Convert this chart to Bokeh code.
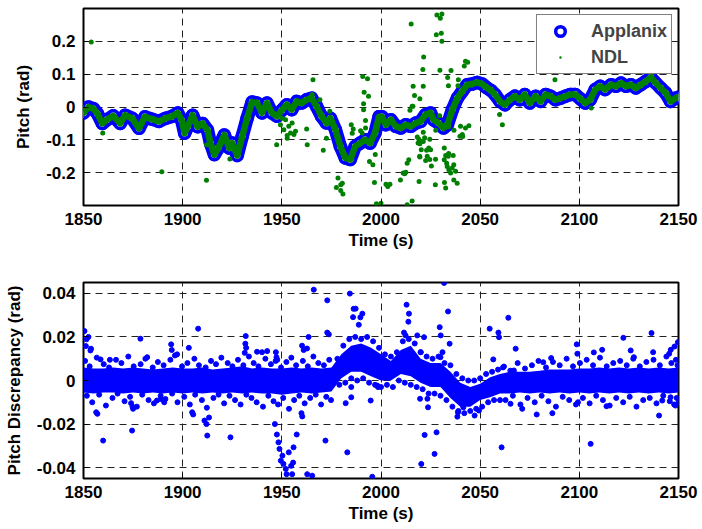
from bokeh.plotting import figure
from bokeh.layouts import column
from bokeh.models import FixedTicker, Legend, LegendItem, CustomJSTickFormatter
from bokeh.embed import file_html
from bokeh.resources import INLINE

# ---------------- data ----------------
x_ticks = [1850, 1900, 1950, 2000, 2050, 2100, 2150]
pitch_ticks = [-0.2, -0.1, 0, 0.1, 0.2]
disc_ticks = [-0.04, -0.02, 0, 0.02, 0.04]

applanix_t = [1850, 1852.5, 1855, 1857, 1859.5, 1862, 1865, 1868.5, 1871, 1874.5, 1878, 1881,
              1884.5, 1888, 1891.5, 1894.5, 1897.5, 1899.5, 1901, 1902.5, 1905, 1907.5, 1910,
              1912.5, 1914, 1916, 1918, 1921, 1923.5, 1925, 1927.5, 1930, 1932.5, 1935, 1937.5,
              1940, 1942.5, 1945, 1947.5, 1950, 1952.5, 1955, 1957.5, 1960, 1962.5, 1965, 1967.5,
              1970, 1972.5, 1974.5, 1977, 1979.5, 1982, 1984.5, 1987, 1989.5, 1992, 1994.5, 1997,
              1999, 2000.5, 2002.5, 2005, 2007.5, 2010, 2012.5, 2015, 2017.5, 2020, 2022.5, 2025,
              2026.5, 2029, 2031.5, 2033.5, 2036, 2038.5, 2041, 2043.5, 2046, 2048.5, 2051, 2053,
              2055.5, 2057.5, 2060, 2062.5, 2065, 2067.5, 2070, 2072.5, 2075, 2078, 2080.5, 2083,
              2085.5, 2088, 2090.5, 2093, 2095.5, 2098, 2100.5, 2103, 2105.5, 2108, 2110.5, 2113,
              2116, 2118.5, 2121, 2123.5, 2126, 2128.5, 2131, 2133.5, 2136, 2138.5, 2141, 2143.5,
              2146, 2148.5, 2150]
applanix_v = [-0.018, 0.0, -0.005, -0.02, -0.05, -0.038, -0.027, -0.05, -0.025, -0.034, -0.065, -0.03,
              -0.037, -0.044, -0.034, -0.029, -0.018, -0.04, -0.08, -0.06, -0.025, -0.06, -0.05,
              -0.07, -0.11, -0.145, -0.125, -0.085, -0.125, -0.11, -0.148, -0.09, -0.034, 0.015, 0.012,
              -0.018, 0.012, -0.018, -0.028, -0.01, 0.007, -0.008, 0.017, 0.012, 0.022, 0.027, 0.002,
              -0.028, -0.049, -0.034, -0.069, -0.12, -0.155, -0.16, -0.12, -0.11, -0.10, -0.11, -0.079,
              -0.03, -0.03, -0.054, -0.039, -0.059, -0.064, -0.054, -0.059, -0.049, -0.044, -0.023, -0.018,
              -0.039, -0.049, -0.064, -0.054, -0.008, 0.027, 0.048, 0.068, 0.07, 0.075, 0.07, 0.06,
              0.05, 0.038, 0.017, 0.007, 0.022, 0.033, 0.022, 0.038, 0.012, 0.033, 0.017, 0.038,
              0.033, 0.022, 0.027, 0.033, 0.038, 0.038, 0.025, 0.012, 0.022, 0.053, 0.063, 0.053,
              0.068, 0.063, 0.073, 0.063, 0.068, 0.058, 0.068, 0.078, 0.09, 0.073, 0.058, 0.043,
              0.017, 0.027, 0.03]

ndl_t = [1853.9, 1859.7, 1889.5, 1912, 1912, 1923.8, 1947.4, 1952.7, 1954.4, 1956.1, 1956.9, 1953.5,
         1951, 1955.2, 1951.9, 1952.7, 1949.3, 1950.2, 1965.7, 1965.3, 1962.8, 1962.5, 1970.9, 1972.5,
         1974.2, 1969.2, 1978.3, 1977.5, 1979.7, 1980.5, 1979.7, 1980.8, 1985, 1986, 1985.5, 1990.8,
         1993.2, 1991.5, 1993.7, 1991.2, 1991.2, 1992.2, 1992.2, 1989.7, 1990.5, 1994.2, 1995.9, 1997.1,
         1996.7, 1997.7, 2000, 2002.5, 2003.4, 2004.5, 2011.2, 2011.9, 2012.5, 2009.8, 2013.2, 2014,
         2013.2, 2015.7, 2015.2, 2016.2, 2016.9, 2015.7, 2019.5, 2019.2, 2018.7, 2020.4, 2021.5, 2021.1,
         2023, 2023.3, 2024.6, 2025.4, 2027.4, 2028.2, 2030.7, 2029.9, 2027.9, 2030.4, 2030.7, 2029.7,
         2033.6, 2034, 2033.6, 2034, 2032.6, 2032, 2032.6, 2033.1, 2033.4, 2034.2, 2035.1, 2035.9,
         2036.7, 2037.6, 2038.4, 2036.7, 2039.8, 2040.1, 2042.6, 2044.3, 2042.6, 2043.7, 2042, 2035.3,
         2039, 2038.8, 2021.3, 2019.6, 2016.1, 2014.6, 2029.6, 2036.8, 2027.6, 2021.3, 2041, 2041.2,
         2059.8, 2061.2, 2087.7, 2136.7, 2106, 2018.3, 2019.1, 2022, 2024.6, 2021.3, 2019.6, 2024.1,
         2025, 2020.3, 2031.9, 2034.1, 2033.9, 2036.4, 2019.6, 2022.5, 2027.5, 2031.9]
ndl_v = [0.198, -0.079, -0.197, -0.223, -0.115, -0.158, -0.115, -0.087, -0.079, -0.084, -0.074, -0.059,
         -0.069, -0.049, -0.039, -0.095, -0.054, -0.034, 0.083, 0.038, -0.115, -0.067, -0.132, -0.095,
         -0.013, 0.022, -0.216, -0.245, -0.237, -0.232, -0.254, -0.265, -0.054, -0.067, -0.08, 0.093,
         0.086, 0.045, 0.033, 0.010, -0.008, -0.041, -0.064, -0.072, -0.079, -0.166, -0.176, -0.145,
         -0.23, -0.295, -0.293, -0.235, -0.242, -0.235, -0.201, -0.203, -0.199, -0.222, -0.171, -0.161,
         -0.298, -0.286, 0.253, 0.063, 0.035, 0.002, -0.15, -0.227, -0.11, -0.105, 0.152, 0.114,
         -0.132, -0.15, -0.16, -0.18, -0.237, 0.28, 0.283, 0.27, 0.22, 0.225, 0.2, 0.112,
         0.09, 0.065, -0.05, -0.06, -0.247, -0.23, -0.148, -0.171, -0.181, -0.191, -0.201, -0.186,
         -0.176, -0.196, -0.232, -0.222, -0.089, -0.059, -0.064, -0.057, 0.139, 0.136, 0.125, 0.111,
         0.083, 0.065, 0.063, 0.025, 0.002, -0.01, -0.027, -0.071, -0.071, -0.077, -0.084, -0.09,
         -0.023, -0.054, 0.083, 0.105, -0.003, -0.091, -0.098, -0.094, -0.098, -0.105, -0.112, -0.125,
         -0.13, -0.13, -0.125, -0.142, -0.15, -0.148, -0.152, -0.163, -0.159, -0.161]

# dense core of the discrepancy cloud (upper / lower edge, rad)
core_t = [1850, 1855, 1860, 1865, 1870, 1875, 1880, 1885, 1890, 1895, 1900, 1905, 1910, 1915, 1920,
          1925, 1930, 1935, 1940, 1945, 1950, 1955, 1960, 1965, 1970, 1975, 1980, 1985, 1990, 1995,
          2000, 2005, 2010, 2015, 2020, 2025, 2030, 2035, 2040, 2045, 2050, 2055, 2060, 2065, 2070,
          2075, 2080, 2085, 2090, 2095, 2100, 2105, 2110, 2115, 2120, 2125, 2130, 2135, 2140, 2145, 2150]
core_hi = [0.006, 0.0055, 0.0055, 0.006, 0.0055, 0.006, 0.0055, 0.005, 0.0055, 0.006, 0.0055, 0.0055,
           0.006, 0.005, 0.0055, 0.006, 0.0065, 0.0055, 0.006, 0.0055, 0.0055, 0.006, 0.0055, 0.006,
           0.0055, 0.006, 0.012, 0.016, 0.017, 0.015, 0.012, 0.009, 0.014, 0.016, 0.010, 0.008, 0.008,
           0.004, -0.001, -0.003, -0.0015, 0.0015, 0.003, 0.004, 0.004, 0.004, 0.0045, 0.005, 0.005,
           0.005, 0.0055, 0.0055, 0.006, 0.0055, 0.006, 0.0055, 0.006, 0.0055, 0.006, 0.0055, 0.006]
core_lo = [-0.0055, -0.006, -0.0055, -0.0055, -0.006, -0.0055, -0.006, -0.0055, -0.006, -0.0055,
           -0.006, -0.0055, -0.006, -0.0055, -0.006, -0.0055, -0.006, -0.0055, -0.006, -0.006, -0.0065,
           -0.006, -0.0055, -0.006, -0.0055, -0.005, 0.001, 0.004, 0.004, 0.002, 0.0, 0.0, 0.003, 0.002,
           -0.001, -0.003, -0.003, -0.008, -0.012, -0.012, -0.009, -0.0077, -0.006, -0.006, -0.0055,
           -0.006, -0.0055, -0.006, -0.0055, -0.006, -0.0055, -0.006, -0.0055, -0.006, -0.0055, -0.006,
           -0.0055, -0.006, -0.0055, -0.006, -0.0055]

# individual discrepancy samples around and outside the core
disc_t = [1850.8, 1853.1, 1856.7, 1860.2, 1862.9, 1866.4, 1869.1, 1872.6, 1875.3, 1878.8, 1881.2,
          1884.9, 1887.5, 1890.4, 1893.8, 1896.1, 1899.7, 1902.4, 1905.9, 1908.2, 1911.6, 1914.3,
          1916.8, 1919.5, 1922.7, 1925.1, 1927.9, 1930.6, 1933.4, 1935.8, 1938.2, 1941.7, 1944.5,
          1946.9, 1949.6, 1952.3, 1954.8, 1957.2, 1960.6, 1963.1, 1965.9, 1968.4, 1971.2, 1973.9,
          1851.7, 1854.4, 1857.9, 1861.3, 1864.6, 1867.2, 1870.7, 1873.5, 1876.9, 1879.6, 1882.8,
          1885.5, 1888.9, 1891.3, 1894.7, 1897.4, 1900.8, 1903.6, 1906.3, 1909.7, 1912.2, 1915.5,
          1918.1, 1920.9, 1923.6, 1926.4, 1929.2, 1932.1, 1934.7, 1937.3, 1940.5, 1943.2, 1945.8,
          1948.1, 1950.7, 1953.6, 1956.2, 1958.8, 1961.5, 1964.3, 1967.1, 1969.8, 1972.4, 1974.8,
          2061.5, 2065.2, 2068.9, 2072.6, 2076.1, 2079.4, 2083.2, 2086.7, 2090.1, 2093.6, 2096.8,
          2100.3, 2103.7, 2106.9, 2110.4, 2113.8, 2117.1, 2120.6, 2123.9, 2127.2, 2130.5, 2133.8,
          2137.4, 2140.6, 2143.9, 2146.4, 2148.7, 2149.5,
          2062.8, 2066.5, 2070.3, 2073.9, 2077.5, 2081, 2084.4, 2088.2, 2091.6, 2094.9, 2098.3,
          2101.8, 2105.2, 2108.5, 2111.9, 2115.3, 2118.6, 2122.1, 2125.4, 2128.8, 2132.2, 2135.5,
          2138.9, 2142.3, 2145.6, 2147.8, 2149.1, 2150,
          1978, 1981, 1984, 1987, 1990, 1993, 1996, 1999, 2002, 2005, 2008, 2011, 2014, 2017, 2020,
          2023, 2026, 2029, 2032, 2035, 2038, 2041, 2044, 2047, 2050, 2053, 2056, 2059,
          1979, 1982, 1985, 1988, 1991, 1994, 1997, 2000, 2003, 2006, 2009, 2012, 2015, 2018, 2021,
          2024, 2027, 2030, 2033, 2036, 2039, 2042, 2045, 2048, 2051, 2054, 2057, 2060,
          1850.5, 1851.5, 1852.5, 1851.2, 1853.5, 1853.8, 1858.6, 1863.3, 1859.9, 1856.4, 1857, 1874.5,
          1874, 1874.7, 1875, 1878.7, 1882.1, 1887, 1889, 1890.7, 1894.2, 1894.5, 1897.2, 1903.1,
          1907.8, 1904.8, 1905.3, 1912.4, 1911, 1912, 1913.3, 1924.1, 1931.8, 1931.6, 1932, 1931.3,
          1937.5, 1940, 1942.6, 1947, 1947.3, 1947.7, 1946.5, 1947.5, 1948.3, 1948.8, 1950.3, 1949.5,
          1950.8, 1952, 1952.4, 1954.7, 1955.7, 1955.2, 1953.5, 1955.9, 1957.5, 1959.9, 1960.3, 1965.3,
          1962.8, 1966.1, 1972.9, 1972.9, 1973.7, 1972, 1960.2, 1961, 1962.7, 1963.5, 1983, 1984.3,
          1985.9, 1986.2, 1987.2, 1990.6, 1989.6, 1988.8, 1982.2, 1985, 1985, 1994.8, 1995.6, 1998.1,
          1998.5, 2012.9, 2014.1, 2013.8, 2011.6, 2012.4, 2018.3, 2021.7, 2020, 2019.7, 2023.4, 2023.7,
          2022, 2020.3, 2027, 2028, 2029.6, 2030.1, 2031.8, 2033.8, 2034.6, 2031, 2030, 2038.5,
          2038.8, 2041.5, 2047.2, 2049.4, 2054.8, 2059.2, 2059.5, 2056.6, 2060.8, 2064.2, 2067.9, 2062,
          2067, 2065.3, 2071.2, 2078.5, 2081.8, 2085.8, 2086.4, 2098.7, 2099, 2099.3, 2105.7, 2107.3,
          2111.5, 2113.7, 2122.2, 2125.9, 2127.5, 2136.4, 2137.2, 2140.2, 2141.8, 2146, 2145.3, 2146.1,
          2148, 2149.7, 2148.5]
disc_v_milli = [9, 6.5, 10.5, 7.5, 6, 9.5, 8, 11, 6.5, 7.5, 10, 6, 8.5, 7, 9.5, 11.5, 6.5, 8, 10, 7,
                6, 9, 7.5, 10.5, 8, 6.5, 9.5, 7, 11, 8, 6.5, 10, 7.5, 9, 6, 8.5, 10.5, 7, 9, 6.5, 11,
                8, 7, 9.5,
                -7, -10, -6.5, -11.5, -8, -6, -9.5, -7.5, -12, -6.5, -9, -10.5, -7, -8.5, -6, -10,
                -7.5, -11, -6.5, -9, -12.5, -8, -6.5, -10.5, -7, -9, -11, -6.5, -8, -10, -12, -7,
                -9.5, -11, -8, -13, -9, -7, -10.5, -8, -6.5, -11, -7.5, -9,
                6, 4.5, 8, 5.5, 7, 9, 6, 8.5, 7, 10, 6.5, 8, 9.5, 7, 10.5, 6.5, 8, 9, 7, 10, 6.5, 8.5,
                9.5, 7, 11, 8, 9.5, 7,
                -9, -7, -11, -8, -10, -7, -9.5, -12, -7.5, -9, -11, -8, -10.5, -7, -9, -11.5, -8, -10,
                -7.5, -12, -9, -8, -10.5, -7, -9.5, -11, -8, -10,
                10, 16, 19, 20, 19, 20, 18, 15, 12, 11, 13, 18, 19, 17, 13, 11, 10, 11, 8, 7, 3, 1, 0,
                0, 1, 3, 4, 5,
                -2, -1, 1, 0, 1, -1, -2, -3, -2, -3, 0, -1, -2, -3, -4, -6, -6, -7, -9, -12, -14, -15,
                -14, -13, -12, -10, -9, -9,
                22.7, 18.9, 20, 15.8, 13.8, 14.6, 9.7, 9.5, -27.6, -14.6, -15.3, -23, -10.4, -12, -13,
                19.2, 10.7, -9.2, -8.5, -10, 16.6, 14, 12, 15, 23.8, -14.6, -15.6, -25.3, -18.4, -20,
                -17, -26.1, 20.4, 16.9, 15, 12.7, 13.2, 13, 13.5, 13, 10.7, 9.5, -20, -24.8, -28.4,
                -31.4, -34.5, -36.8, -38.3, -40.6, -43, -39.2, -37.7, -43, -33, -30.7, -24.8, -15,
                -16.5, -43.7, -43, 41.7, 36.8, 22, 21.2, -27.6, 16, 14, 14.7, 20, -33, 39.9, 29.1,
                32.9, 33, 30.7, 29, 25.6, -10.4, -7.7, -3, -9.2, -44.2, -2.3, -3, 34.8, 30.7, 27, 22,
                20.7, 20.7, 19.9, 13, -8.4, -8.4, -12.3, -25, -38.3, -33.7, -23.8, 24.5, 20.7, 44.8,
                31.7, 16.9, 13, 10.7, -16.6, -14.6, -12.3, -16.1, -13.8, 23.8, 22, 19.9, 9.7, -30.7,
                28.8, 14.6, 6.4, 4.6, -10.7, -13, -15.6, 8.4, 10.3, -15, 16.6, 12.3, -10, -29.1, 12.9,
                14.1, -11.8, 19.6, 13.8, 10.7, 21.8, 13, -16.1, -9.2, -7.7, 12.3, 14.1, 15.6, 17.6,
                -11.5]
disc_v = [m / 1000.0 for m in disc_v_milli]

# ---------------- styling helpers ----------------
FONT = "Liberation Sans"
BLUE = "#0000ff"
GREEN = "#008000"


def style(p, yticks, digits, ylabel):
    p.outline_line_color = "black"
    p.outline_line_width = 2
    p.background_fill_color = "white"
    p.border_fill_color = "white"
    p.xaxis.ticker = FixedTicker(ticks=x_ticks)
    p.yaxis.ticker = FixedTicker(ticks=yticks)
    p.yaxis.formatter = CustomJSTickFormatter(
        code="return Math.abs(tick) < 1e-12 ? '0' : tick.toFixed(%d);" % digits)
    for ax in (p.xaxis[0], p.yaxis[0]):
        ax.axis_line_color = None
        ax.major_tick_in = 5
        ax.major_tick_out = 0
        ax.minor_tick_line_color = None
        ax.major_tick_line_color = "black"
        ax.major_label_text_font = FONT
        ax.major_label_text_font_style = "bold"
        ax.major_label_text_font_size = "17px"
        ax.major_label_text_color = "black"
        ax.axis_label_text_font = FONT
        ax.axis_label_text_font_style = "bold"
        ax.axis_label_text_font_size = "17px"
        ax.axis_label_text_color = "black"
    p.xaxis.axis_label = "Time (s)"
    p.xaxis.major_label_standoff = 7
    p.xaxis.axis_label_standoff = 3
    p.yaxis.axis_label = ylabel
    p.yaxis.major_label_standoff = 8
    p.yaxis.axis_label_standoff = 10
    for g in (p.xgrid[0], p.ygrid[0]):
        g.grid_line_color = "#222222"
        g.grid_line_dash = "7 5"
        g.grid_line_width = 1


# ---------------- top: pitch ----------------
p1 = figure(width=702, height=263, x_range=(1850, 2150), y_range=(-0.3, 0.3),
            output_backend="svg", toolbar_location=None,
            min_border_left=83, min_border_right=24, min_border_top=8, min_border_bottom=58)
style(p1, pitch_ticks, 1, "Pitch (rad)")

p1.line(applanix_t, applanix_v, line_color=BLUE, line_width=13.5, line_join="round", line_cap="round")
r_app = p1.scatter(applanix_t, applanix_v, marker="circle", size=10, line_color=BLUE,
                   line_width=3.5, fill_color="white")
p1.line(applanix_t, applanix_v, line_color=GREEN, line_width=6.5, line_join="round", line_cap="round")
r_ndl = p1.scatter(ndl_t, ndl_v, marker="dot", size=20, line_color=GREEN, fill_color=GREEN)

legend = Legend(items=[LegendItem(label="Applanix", renderers=[r_app]),
                       LegendItem(label="NDL", renderers=[r_ndl])],
                location="top_right", margin=6, padding=4, spacing=2,
                glyph_width=38, glyph_height=24, label_height=24, label_standoff=12,
                label_text_font=FONT, label_text_font_style="bold", label_text_font_size="18px",
                border_line_color="black", border_line_width=1.5,
                background_fill_color="white", background_fill_alpha=1.0)
p1.add_layout(legend)

# ---------------- bottom: discrepancy ----------------
p2 = figure(width=702, height=265, x_range=(1850, 2150), y_range=(-0.045, 0.045),
            output_backend="svg", toolbar_location=None,
            min_border_left=83, min_border_right=24, min_border_top=19, min_border_bottom=50)
style(p2, disc_ticks, 2, "Pitch Discrepancy (rad)")

p2.varea(x=core_t, y1=core_lo, y2=core_hi, fill_color=BLUE)
p2.scatter(disc_t, disc_v, marker="circle", size=5, line_color=BLUE, fill_color=BLUE)

layout = column(p1, p2, spacing=0)
open("out.html", "w").write(file_html(layout, INLINE))
